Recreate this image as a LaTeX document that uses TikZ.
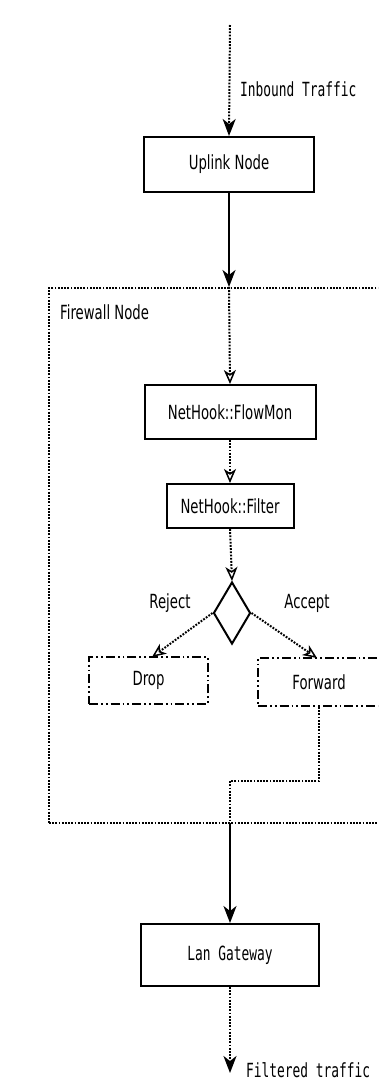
\documentclass[tikz,border=0pt]{standalone}
\usepackage{fontspec}
\setmainfont{DejaVu Sans}[FakeStretch=0.68]
\setmonofont{DejaVu Sans Mono}[FakeStretch=0.66]
\usetikzlibrary{arrows.meta,shapes.geometric}
\tikzset{
  every node/.style={font=\fontsize{19.5}{23}\selectfont, inner sep=0pt},
  box/.style={draw, line width=2pt, rectangle},
  dashbox/.style={draw, line width=2pt, rectangle,
    dash pattern=on 9pt off 3pt on 1.8pt off 3pt on 1.8pt off 3pt},
  group/.style={draw, line width=2pt, rectangle, dash pattern=on 1.8pt off 1.4pt},
  dotline/.style={line width=2pt, dash pattern=on 1.8pt off 1.4pt},
  solidline/.style={line width=2pt},
  bigtip/.style={-{Stealth[length=17pt,width=13pt,inset=5pt]}},
  opentip/.style={-{Stealth[open,length=14pt,width=12pt,inset=4pt,line width=1.5pt]}},
  lbl/.style={font=\fontsize{19.5}{23}\selectfont\ttfamily}
}
\begin{document}
\begin{tikzpicture}[x=1pt,y=-1pt]
  \useasboundingbox (0,0) rectangle (378,1085);
  \clip (0,0) rectangle (378,1085);

  % firewall group, its right side runs past the edge
  \node[group, minimum width=341pt, minimum height=535pt] (fw) at (219.5,555.5) {};
  \node[anchor=west] (fwlabel) at (60,312) {Firewall Node};

  % main boxes
  \node[box, minimum width=170pt, minimum height=55pt] (up) at (229,164.5) {Uplink Node};
  \node[box, minimum width=171pt, minimum height=54pt] (flow) at (230,412) {NetHook::FlowMon};
  \node[box, minimum width=127pt, minimum height=44pt] (filt) at (230,506) {NetHook::Filter};
  \node[draw, diamond, line width=2pt, minimum width=37pt, minimum height=62pt] (dec) at (232,613) {};
  \node[dashbox, minimum width=119pt, minimum height=47pt] (drop) at (148.5,680.5) {Drop};
  \node[dashbox, minimum width=122pt, minimum height=48pt] (fwd) at (319,682) {Forward};
  \node[box, minimum width=178pt, minimum height=62pt] (lan) at (230,955) {\ttfamily Lan Gateway};

  % decision labels
  \node (rej) at (170,603) {Reject};
  \node (acc) at (307,603) {Accept};

  % external entry and exit
  \coordinate (src) at (230,25);
  \coordinate (dst) at (230,1073);
  \node[lbl, anchor=west] (inlbl) at (240,89) {Inbound Traffic};
  \node[lbl, anchor=west] (outlbl) at (246,1070) {Filtered traffic};

  % connectors
  \draw[dotline, bigtip] (src) -- (up.north);
  \draw[solidline, bigtip] (up.south) -- (up.south |- fw.north);
  \draw[dotline, opentip] (up.south |- fw.north) -- (flow.north);
  \draw[dotline, opentip] (flow.south) -- (filt.north);
  \draw[dotline, opentip] (filt.south) -- (dec.north);
  \draw[dotline, opentip] (dec.west) -- (152,657);
  \draw[dotline, opentip] (dec.east) -- (317,658);

  \coordinate (bend) at (230,781);
  \draw[dotline] (fwd.south) |- (bend) -- (bend |- fw.south);
  \draw[solidline, bigtip] (bend |- fw.south) -- (lan.north);
  \draw[dotline, bigtip] (lan.south) -- (dst);
\end{tikzpicture}
\end{document}
